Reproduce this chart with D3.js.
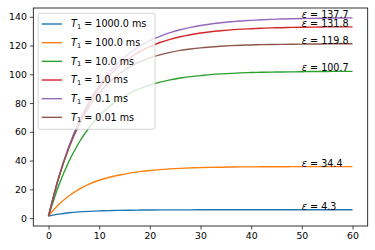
<!DOCTYPE html>
<html>
<head>
<meta charset="utf-8">
<script src="https://cdn.jsdelivr.net/npm/d3@7"></script>
<style>
  body { margin: 0; background: #fff; }
  svg { font-family: "DejaVu Sans", sans-serif; }
</style>
</head>
<body>
<div class="chart"></div>
<script>
var w = 375;
var h = 250;

// time axis (samples read every 2 units)
var times = [0, 2, 4, 6, 8, 10, 12, 14, 16, 18, 20, 22, 24, 26, 28, 30,
             32, 34, 36, 38, 40, 42, 44, 46, 48, 50, 52, 54, 56, 58, 60];

var t1Labels = ["1000.0", "100.0", "10.0", "1.0", "0.1", "0.01"];
var epsLabels = ["4.3", "34.4", "100.7", "131.8", "137.7", "119.8"];
var colors = ["#1f77b4", "#ff7f0e", "#2ca02c", "#d62728", "#9467bd", "#8c564b"];

var s1000 = [1.5, 2.8, 3.7, 4.3, 4.7, 5.0, 5.2, 5.4, 5.5, 5.6, 5.65, 5.7, 5.7, 5.75, 5.75, 5.8,
             5.8, 5.8, 5.8, 5.8, 5.8, 5.8, 5.8, 5.8, 5.8, 5.8, 5.8, 5.8, 5.8, 5.8, 5.8];
var s100 = [1.4, 9.4, 15.4, 20.0, 23.6, 26.3, 28.4, 30.0, 31.3, 32.3, 33.1, 33.7, 34.2, 34.6, 34.9, 35.1,
            35.3, 35.4, 35.5, 35.6, 35.6, 35.7, 35.7, 35.7, 35.8, 35.8, 35.8, 35.8, 35.8, 35.8, 35.8];
var s10 = [1.4, 22.5, 39.2, 52.4, 62.8, 71.1, 77.5, 82.7, 86.8, 90.0, 92.5, 94.5, 96.1, 97.4, 98.4, 99.1,
           99.8, 100.3, 100.6, 101.0, 101.2, 101.4, 101.5, 101.6, 101.7, 101.8, 101.9, 101.9, 102.0, 102.0, 102.0];
var s1 = [1.4, 27.9, 49.1, 66.0, 79.6, 90.4, 98.9, 105.9, 111.3, 115.8, 119.2, 122.1, 124.3, 126.1, 127.5, 128.7,
          129.6, 130.3, 130.9, 131.4, 131.7, 132.0, 132.3, 132.4, 132.6, 132.7, 132.8, 132.9, 133.0, 133.0, 133.0];
var s01 = [1.4, 28.2, 49.7, 67.0, 81.0, 92.3, 101.4, 108.8, 114.7, 119.5, 123.4, 126.4, 129.0, 131.0, 132.6, 133.9,
           135.0, 135.8, 136.5, 137.1, 137.5, 137.9, 138.2, 138.4, 138.6, 138.8, 138.9, 139.0, 139.1, 139.1, 139.2];
var s001 = [1.4, 27.9, 48.5, 64.6, 77.1, 86.9, 94.5, 100.4, 105.0, 108.6, 111.4, 113.5, 115.2, 116.6, 117.6, 118.4,
            119.0, 119.5, 119.9, 120.2, 120.4, 120.6, 120.7, 120.8, 120.9, 121.0, 121.1, 121.1, 121.2, 121.2, 121.2];

var series = [s1000, s100, s10, s1, s01, s001];

var xTicks = [0, 10, 20, 30, 40, 50, 60];
var yTicks = [0, 20, 40, 60, 80, 100, 120, 140];

var axLeft = 33.3, axRight = 367.7, axTop = 8, axBottom = 226;

var svg = d3.select(".chart")
            .append("svg")
            .attr("width", w)
            .attr("height", h);

// matplotlib style 5% margins
var xMin = d3.min(times), xMax = d3.max(times);
var xPad = (xMax - xMin) * 0.05;
var allVals = [].concat.apply([], series);
var yMin = d3.min(allVals), yMax = d3.max(allVals);
var yPad = (yMax - yMin) * 0.05;

var xScale = d3.scaleLinear()
               .domain([xMin - xPad, xMax + xPad])
               .range([axLeft, axRight]);

var yScale = d3.scaleLinear()
               .domain([yMin - yPad, yMax + yPad])
               .range([axBottom, axTop]);

var line = d3.line()
             .x((d, i) => xScale(times[i]))
             .y((d) => yScale(d))
             .curve(d3.curveMonotoneX);

var plot = svg.append("g");

plot.selectAll("path.curve")
    .data(series)
    .enter()
    .append("path")
    .attr("class", "curve")
    .attr("d", (d) => line(d))
    .attr("fill", "none")
    .attr("stroke", (d, i) => colors[i])
    .attr("stroke-width", 1.4);

// epsilon labels at x = 50, on the final value
var labels = plot.selectAll("text.eps")
    .data(series)
    .enter()
    .append("text")
    .attr("class", "eps")
    .attr("x", xScale(50))
    .attr("y", (d) => yScale(d[d.length - 1]))
    .attr("font-size", "9.6px")
    .attr("fill", "#000");
labels.append("tspan").attr("font-style", "italic").text("ε");
labels.append("tspan").text((d, i) => " = " + epsLabels[i]);

// axes
var xAxis = d3.axisBottom(xScale).tickValues(xTicks).tickSize(3.5).tickPadding(3);
var yAxis = d3.axisLeft(yScale).tickValues(yTicks).tickSize(3.5).tickPadding(3);

svg.append("g")
   .attr("transform", "translate(0," + axBottom + ")")
   .call(xAxis)
   .call((g) => g.select(".domain").remove());

svg.append("g")
   .attr("transform", "translate(" + axLeft + ",0)")
   .call(yAxis)
   .call((g) => g.select(".domain").remove());

svg.selectAll(".tick text")
   .attr("font-size", "9.3px")
   .attr("font-family", "DejaVu Sans")
   .attr("fill", "#000");
svg.selectAll(".tick line")
   .attr("stroke", "#000")
   .attr("stroke-width", 0.7);

svg.append("rect")
   .attr("x", axLeft)
   .attr("y", axTop)
   .attr("width", axRight - axLeft)
   .attr("height", axBottom - axTop)
   .attr("fill", "none")
   .attr("stroke", "#000")
   .attr("stroke-width", 0.8);

// legend
var legend = svg.append("g");
legend.append("rect")
      .attr("x", 38.3)
      .attr("y", 13.3)
      .attr("width", 116.7)
      .attr("height", 116)
      .attr("rx", 2)
      .attr("fill", "#fff")
      .attr("fill-opacity", 0.8)
      .attr("stroke", "#cccccc")
      .attr("stroke-width", 0.8);

var rows = legend.selectAll("g.row")
    .data(t1Labels)
    .enter()
    .append("g")
    .attr("class", "row")
    .attr("transform", (d, i) => "translate(0," + (24 + i * 18.67) + ")");

rows.append("line")
    .attr("x1", 41.7)
    .attr("x2", 62)
    .attr("stroke", (d, i) => colors[i])
    .attr("stroke-width", 1.4);

var lt = rows.append("text")
    .attr("x", 71)
    .attr("y", 3.4)
    .attr("font-size", "9.6px")
    .attr("fill", "#000");
lt.append("tspan").attr("font-style", "italic").text("T");
lt.append("tspan").attr("font-size", "6.7px").attr("dy", 1.6).text("1");
lt.append("tspan").attr("dy", -1.6).text((d) => " = " + d + " ms");
</script>
</body>
</html>
